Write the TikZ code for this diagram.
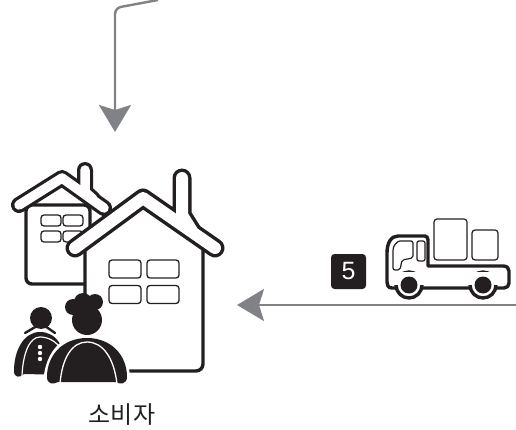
\documentclass[tikz,border=0pt]{standalone}
\usepackage{fontspec}
\setsansfont{Liberation Sans}
\newfontfamily\krfont{Noto Sans CJK KR}
\usetikzlibrary{arrows.meta}
\definecolor{flowgray}{HTML}{808285}
\definecolor{inkblack}{HTML}{231F20}
\tikzset{
  flow/.style={-{Stealth[length=27pt,width=32pt,inset=5pt]}, line width=2.4pt, flowgray},
  win/.style={draw=inkblack, rounded corners=3pt, line width=1.3pt, fill=white, inner sep=0pt},
  wall/.style={draw=inkblack, line width=3.4pt, line join=round},
  boxnum/.style={fill=inkblack, rounded corners=3.5pt, text=white, font=\sffamily\fontsize{25}{25}\selectfont,
                 minimum width=35pt, minimum height=35pt, inner sep=0pt},
  lbl/.style={text=inkblack, font=\krfont\fontsize{24}{24}\selectfont, inner sep=0pt},
  crate/.style={draw=inkblack, rounded corners=3pt, line width=1.2pt, fill=white, inner sep=0pt}
}
\begin{document}
\begin{tikzpicture}[x=1pt,y=-1pt]
  \useasboundingbox (0,0) rectangle (516,430);
  % back house
  \draw[wall, fill=white, rounded corners=6pt] (26,205) -- (26,284) -- (90,284) -- (90,205) -- cycle;
  \node[win, minimum width=20pt, minimum height=11pt] (bw1) at (51,220.5) {};
  \node[win, minimum width=20pt, minimum height=11pt] (bw2) at (73,220.5) {};
  \node[win, minimum width=20pt, minimum height=11pt] (bw3) at (51,236.5) {};
  \node[win, minimum width=20pt, minimum height=11pt] (bw4) at (73,236.5) {};
  \draw[inkblack, line width=16pt, line cap=round, line join=round] (19,205) -- (62,178) -- (104,208) (85,170) -- (85,192) -- (93,199);
  \draw[white, line width=9.5pt, line cap=round, line join=round] (19,205) -- (62,178) -- (104,208) (85,170) -- (85,192) -- (93,199);
  % front house
  \fill[white] (85,235) rectangle (203,371);
  \draw[wall, rounded corners=7pt] (85,240) -- (85,300) (128,371) -- (203,371) -- (203,240);
  \draw[inkblack, line width=19pt, line cap=round, line join=round] (75,248) -- (143,198) -- (215,248) (182,178) -- (182,215) -- (192,231);
  \draw[white, line width=12pt, line cap=round, line join=round] (75,248) -- (143,198) -- (215,248) (182,178) -- (182,215) -- (192,231);
  \node[win, minimum width=32pt, minimum height=18pt] (fw1) at (125,269) {};
  \node[win, minimum width=32pt, minimum height=18pt] (fw2) at (163,269) {};
  \node[win, minimum width=32pt, minimum height=18pt] (fw3) at (125,294.5) {};
  \node[win, minimum width=32pt, minimum height=18pt] (fw4) at (163,294.5) {};
  % child
  \fill[inkblack] (41,318) circle (11);
  \draw[inkblack, line width=2.4pt, line cap=round] (25,333) -- (37,326) (55,333) -- (45,326);
  \fill[inkblack] (14,371) .. controls (14,350) and (24,332) .. (40,332) .. controls (56,332) and (66,346) .. (68,375) -- (24,374) .. controls (20,378) and (14,378) .. (14,371) -- cycle;
  \draw[white, line width=1.2pt] (22,376) .. controls (23,352) and (30,337) .. (40,337) .. controls (48,337) and (56,341) .. (62,350);
  \fill[white] (40,347) circle (2.2) (40,353) circle (2.2) (40,359) circle (2.2);
  % adult
  \fill[white] (43,388) .. controls (43,354) and (60,334) .. (87,334) .. controls (114,334) and (131,354) .. (131,388) -- cycle;
  \fill[inkblack] (87,320) circle (15);
  \fill[inkblack] (73,307) circle (8) (95,302) circle (8) (83,302) circle (9);
  \fill[inkblack] (47,377) .. controls (47,355) and (63,338) .. (87,338) .. controls (111,338) and (127,355) .. (127,377) .. controls (127,384) and (120,385) .. (116,382) -- (58,382) .. controls (53,385) and (47,384) .. (47,377) -- cycle;
  \draw[white, line width=1.3pt] (60,384) .. controls (62,358) and (72,342) .. (87,342) .. controls (103,342) and (114,358) .. (117,384);
  % truck
  \draw[wall, fill=white] (392,288) .. controls (388,288) and (387,285) .. (387,282) -- (387,253) .. controls (387,243) and (391,236) .. (398,236) -- (425,236) .. controls (427,236) and (428,238) .. (428,240) -- (428,266) -- (503,266) .. controls (507,266) and (509,268) .. (509,271) -- (509,283) .. controls (509,286) and (507,288) .. (504,288) -- cycle;
  \node[crate, minimum width=33pt, minimum height=41pt] (box1) at (450.5,239.5) {};
  \node[crate, minimum width=26pt, minimum height=30pt] (box2) at (485,245) {};
  \draw[inkblack, line width=1.2pt, rounded corners=2pt] (393,270) -- (393,252) .. controls (393,246) and (397,241) .. (402,241) -- (413,241) -- (413,258) -- (402,260) -- (400,270) -- cycle;
  \draw[inkblack, line width=1.2pt, rounded corners=2pt] (417,241) rectangle (425,261);
  \draw[wall, fill=white] (409,285) circle (13);
  \draw[wall, fill=white] (483,285) circle (13);
  \fill[white] (393,272) rectangle (503,285);
  \fill[inkblack] (409,285) circle (8.5);
  \fill[inkblack] (483,285) circle (8.5);
  % label and arrows
  \node[boxnum] (num) at (348.5,271.5) {5};
  \node[lbl] (cons) at (122,415) {소비자};
  \coordinate (topstart) at (158,0);
  \coordinate (topbend) at (115,8);
  \coordinate (toptip) at (115,132);
  \coordinate (rstart) at (516,305);
  \coordinate (rtip) at (237,305);
  \draw[flow, rounded corners=6pt] (topstart) -- (topbend) -- (toptip);
  \draw[flow] (rstart) -- (rtip);
\end{tikzpicture}
\end{document}
